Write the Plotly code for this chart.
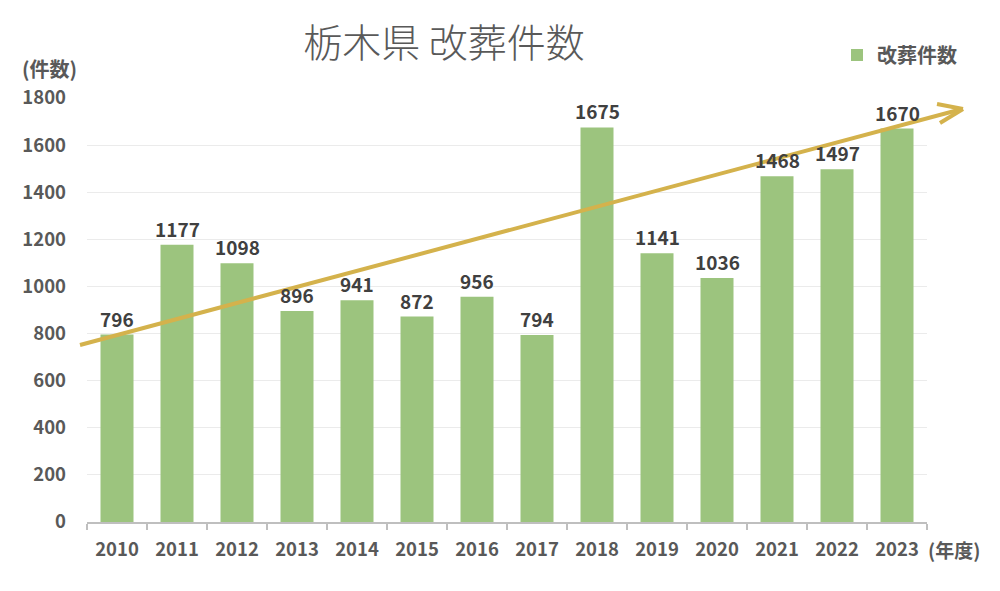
import plotly.graph_objects as go

years = ["2010", "2011", "2012", "2013", "2014", "2015", "2016", "2017",
         "2018", "2019", "2020", "2021", "2022", "2023"]
counts = [796, 1177, 1098, 896, 941, 872, 956, 794, 1675, 1141, 1036, 1468, 1497, 1670]
series_name = "改葬件数"
y_ticks = [0, 200, 400, 600, 800, 1000, 1200, 1400, 1600, 1800]

FONT = "Noto Sans CJK JP"
GRAY = "#595959"

W, H = 1000, 591
L, R, T, B = 87, 73, 98, 69
pw, ph = W - L - R, H - T - B


def px(x):
    return (x - L) / pw


def py(y):
    return (H - B - y) / ph


fig = go.Figure()
fig.add_trace(go.Bar(
    x=years, y=counts, name=series_name,
    marker=dict(color="#9CC47E", line=dict(width=0)),
    width=0.55,
    showlegend=True,
    hoverinfo="x+y",
))

arrow_color = "#D4B24C"
shapes = [
    dict(type="line", xref="paper", yref="paper",
         x0=px(80), y0=py(345), x1=px(962), y1=py(109),
         line=dict(color=arrow_color, width=4)),
    dict(type="line", xref="paper", yref="paper",
         x0=px(937), y0=py(104), x1=px(963), y1=py(109),
         line=dict(color=arrow_color, width=4)),
    dict(type="line", xref="paper", yref="paper",
         x0=px(940), y0=py(123), x1=px(963), y1=py(109),
         line=dict(color=arrow_color, width=4)),
]

# data labels (drawn above the trend arrow), positioned by category index
annotations = [
    dict(text=str(v), x=i, y=v, xref="x", yref="y",
         xanchor="center", yanchor="bottom", yshift=1, showarrow=False,
         font=dict(family=FONT, size=19, color="#404040", weight="bold"))
    for i, v in enumerate(counts)
]

annotations += [
    dict(text="(件数)", xref="paper", yref="paper", x=px(20), y=py(68),
         xanchor="left", yanchor="middle", showarrow=False,
         font=dict(family=FONT, size=20, color=GRAY, weight="bold")),
    dict(text="(年度)", xref="paper", yref="paper", x=px(926), y=py(549),
         xanchor="left", yanchor="middle", showarrow=False,
         font=dict(family=FONT, size=19, color=GRAY, weight="bold")),
]

fig.update_layout(
    width=W, height=H,
    margin=dict(l=L, r=R, t=T, b=B),
    paper_bgcolor="white", plot_bgcolor="white",
    title=dict(text="栃木県 改葬件数", x=444 / W, xanchor="center",
               y=1 - 43 / H, yanchor="middle",
               font=dict(family=FONT, size=39, color=GRAY, weight=300)),
    legend=dict(x=px(837), y=py(55), xanchor="left", yanchor="middle",
                font=dict(family=FONT, size=20, color=GRAY, weight="bold"),
                itemwidth=30, bgcolor="rgba(0,0,0,0)"),
    xaxis=dict(type="category", range=[-0.5, len(years) - 0.5],
               tickson="boundaries", ticks="outside",
               ticklen=6, tickcolor="#BFBFBF", tickwidth=2,
               showline=True, linecolor="#BFBFBF", linewidth=2,
               showgrid=False, tickangle=0,
               tickfont=dict(family=FONT, size=18.5, color=GRAY, weight="bold"),
               ticklabelstandoff=10),
    yaxis=dict(range=[0, 1800], tickvals=y_ticks, showline=False,
               showgrid=True, gridcolor="#EBEBEB", gridwidth=1,
               zeroline=False, ticks="",
               tickfont=dict(family=FONT, size=18.5, color=GRAY, weight="bold"),
               ticklabelstandoff=20),
    bargap=0.45,
    shapes=shapes,
    annotations=annotations,
    font=dict(family=FONT),
)

fig.write_html("out.html",
               config={"displayModeBar": False},
               post_script="document.body.style.margin='0';document.body.style.padding='0';")
